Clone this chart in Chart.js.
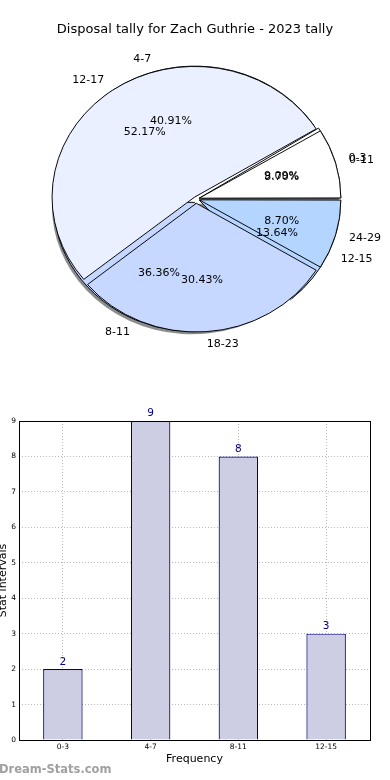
<!DOCTYPE html>
<html>
<head>
<meta charset="utf-8">
<script src="https://cdn.jsdelivr.net/npm/chart.js@4/dist/chart.umd.min.js"></script>
<style>
    body { margin: 0; background: #ffffff; }
    #page { position: relative; width: 390px; height: 780px; overflow: hidden; font-family: "DejaVu Sans", sans-serif; }
    #title { position: absolute; top: 21px; left: 0; width: 390px; text-align: center; font-size: 13px; color: #000; }
    .pie { position: absolute; top: 0; left: 0; }
    #bar-chart { position: absolute; top: 395px; left: 0; }
    #mark { position: absolute; left: -1px; top: 762px; font-size: 11.5px; font-weight: bold; color: #a0a0a0; }
</style>
</head>
<body>
<div id="page">
    <canvas id="pie-back" class="pie" width="390" height="400"></canvas>
    <canvas id="pie-front" class="pie" width="390" height="400"></canvas>
    <div id="title">Disposal tally for Zach Guthrie - 2023 tally</div>
    <canvas id="bar-chart" width="390" height="385"></canvas>
    <div id="mark">Dream-Stats.com</div>
</div>
<script>
// pie 1 (bottom layer)
var bands1 = ["0-3", "4-7", "8-11", "12-15"];
var tally1 = [2, 9, 8, 3];
// pie 2 (top layer)
var bands2 = ["0-11", "12-17", "18-23", "24-29"];
var tally2 = [2, 12, 7, 2];
// bar chart
var barLabels = ["0-3", "4-7", "8-11", "12-15"];
var barValues = [2, 9, 8, 3];
var yTicks = [0, 1, 2, 3, 4, 5, 6, 7, 8, 9];

var sliceColors = ["#ffffff", "#eaf0ff", "#c6d8ff", "#b3d5ff"];
var PIE_SY = 133 / 145;   // pie is a bit flatter than a circle
var PIE_R = 140;
var PIE_OFF = 5;

function rev(arr) {
    return arr.slice().reverse();
}

// chart.js moves an arc by offset/4 * (1 + fix), so undo that to get the same push for every slice
function explode(c) {
    var data = c.dataset.data;
    var total = 0;
    for (var i = 0; i < data.length; i++) { total = total + data[i]; }
    var circ = data[c.dataIndex] / total * Math.PI * 2;
    var fix = 1 - Math.sin(Math.min(Math.PI, circ));
    return 4 * PIE_OFF / (1 + fix);
}

var squashPlugin = {
    id: "squash",
    beforeDatasetsDraw: function (chart) {
        var cy = chart.getDatasetMeta(0).data[0].y;
        var ctx = chart.ctx;
        ctx.save();
        ctx.translate(0, cy);
        ctx.scale(1, PIE_SY);
        ctx.translate(0, -cy);
    },
    afterDatasetsDraw: function (chart) {
        chart.ctx.restore();
    }
};

function drawPieTexts(ctx, chart) {
    var meta = chart.getDatasetMeta(0);
    var labels = chart.data.labels;
    var vals = chart.data.datasets[0].data;
    var total = 0;
    for (var i = 0; i < vals.length; i++) { total = total + vals[i]; }

    ctx.save();
    ctx.fillStyle = "#000000";
    ctx.font = "11px 'DejaVu Sans'";
    ctx.textBaseline = "middle";
    for (var j = 0; j < meta.data.length; j++) {
        var arc = meta.data[j];
        var mid = (arc.startAngle + arc.endAngle) / 2;
        var c = Math.cos(mid), s = Math.sin(mid);
        var lr = arc.outerRadius * 1.1 + PIE_OFF;
        var pr = arc.outerRadius * 0.6 + PIE_OFF;
        ctx.textAlign = c < 0 ? "right" : "left";
        ctx.fillText(labels[j], arc.x + c * lr, arc.y + s * lr * PIE_SY);
        ctx.textAlign = "center";
        ctx.fillText((vals[j] / total * 100).toFixed(2) + "%", arc.x + c * pr, arc.y + s * pr * PIE_SY);
    }
    ctx.restore();
}

var shadowPlugin = {
    id: "pieShadow",
    beforeDatasetsDraw: function (chart) {
        var ctx = chart.ctx;
        var meta = chart.getDatasetMeta(0);
        ctx.save();
        ctx.fillStyle = "rgba(0,0,0,0.45)";
        ctx.beginPath();
        for (var i = 0; i < meta.data.length; i++) {
            var arc = meta.data[i];
            var mid = (arc.startAngle + arc.endAngle) / 2;
            var cx = arc.x + Math.cos(mid) * PIE_OFF - 2;
            var cy = arc.y + Math.sin(mid) * PIE_OFF + 3;
            ctx.moveTo(cx, cy);
            ctx.arc(cx, cy, arc.outerRadius, arc.startAngle, arc.endAngle);
            ctx.closePath();
        }
        ctx.fill();
        ctx.restore();
    }
};

function pieConfig(labels, values, plugins) {
    return {
        type: "pie",
        data: {
            labels: rev(labels),
            datasets: [{
                data: rev(values),
                backgroundColor: rev(sliceColors),
                borderColor: "#000000",
                borderWidth: 1,
                offset: explode
            }]
        },
        options: {
            responsive: false,
            animation: false,
            rotation: 90,
            radius: PIE_R,
            layout: { padding: { left: 2, right: 0, top: 0, bottom: 2 } },
            plugins: { legend: { display: false }, tooltip: { enabled: false } }
        },
        plugins: plugins
    };
}

var backPie = new Chart(document.getElementById("pie-back"), pieConfig(bands1, tally1, [squashPlugin, shadowPlugin]));

var textPlugin = {
    id: "pieTexts",
    afterDatasetsDraw: function (chart) {
        drawPieTexts(chart.ctx, backPie);
        drawPieTexts(chart.ctx, chart);
    }
};

var frontPie = new Chart(document.getElementById("pie-front"), pieConfig(bands2, tally2, [squashPlugin, textPlugin]));

// bar chart
var framePlugin = {
    id: "frame",
    afterDraw: function (chart) {
        var a = chart.chartArea;
        var ctx = chart.ctx;
        ctx.save();
        ctx.strokeStyle = "#000000";
        ctx.lineWidth = 1;
        ctx.strokeRect(Math.round(a.left) + 0.5, Math.round(a.top) + 0.5, Math.round(a.right - a.left), Math.round(a.bottom - a.top));
        ctx.restore();
    }
};

var valuePlugin = {
    id: "barValues",
    afterDatasetsDraw: function (chart) {
        var ctx = chart.ctx;
        var meta = chart.getDatasetMeta(0);
        ctx.save();
        ctx.fillStyle = "#00008b";
        ctx.font = "10.5px 'DejaVu Sans'";
        ctx.textAlign = "center";
        ctx.textBaseline = "bottom";
        for (var i = 0; i < meta.data.length; i++) {
            var bar = meta.data[i];
            ctx.fillText(String(barValues[i]), bar.x, bar.y - 2);
        }
        ctx.restore();
    }
};

var barChart = new Chart(document.getElementById("bar-chart"), {
    type: "bar",
    data: {
        labels: barLabels,
        datasets: [{
            data: barValues,
            backgroundColor: "#cdcde3",
            borderColor: "#000080",
            borderWidth: 1.2,
            barPercentage: 0.45,
            categoryPercentage: 1
        }]
    },
    options: {
        responsive: false,
        animation: false,
        layout: { padding: { top: 26, right: 20, left: 0, bottom: 14 } },
        plugins: { legend: { display: false }, tooltip: { enabled: false } },
        scales: {
            x: {
                grid: { offset: false, color: "#b8b8b8", lineWidth: 1, drawTicks: false },
                border: { display: false, dash: [1, 2] },
                ticks: { color: "#000000", font: { family: "DejaVu Sans", size: 7.5 }, padding: 3, maxRotation: 0 },
                title: { display: true, text: "Frequency", color: "#000000", font: { family: "DejaVu Sans", size: 11 }, padding: 0 },
                afterFit: function (scale) { scale.height = 26; }
            },
            y: {
                min: yTicks[0],
                max: yTicks[yTicks.length - 1],
                grid: { color: "#b8b8b8", lineWidth: 1, drawTicks: false },
                border: { display: false, dash: [1, 2] },
                ticks: { stepSize: 1, color: "#000000", font: { family: "DejaVu Sans", size: 7.5 }, padding: 3 },
                title: { display: true, text: "Stat intervals", color: "#000000", font: { family: "DejaVu Sans", size: 11 }, padding: { top: -3, bottom: 0 } },
                afterFit: function (scale) { scale.width = 19; }
            }
        }
    },
    plugins: [valuePlugin, framePlugin]
});
</script>
</body>
</html>
